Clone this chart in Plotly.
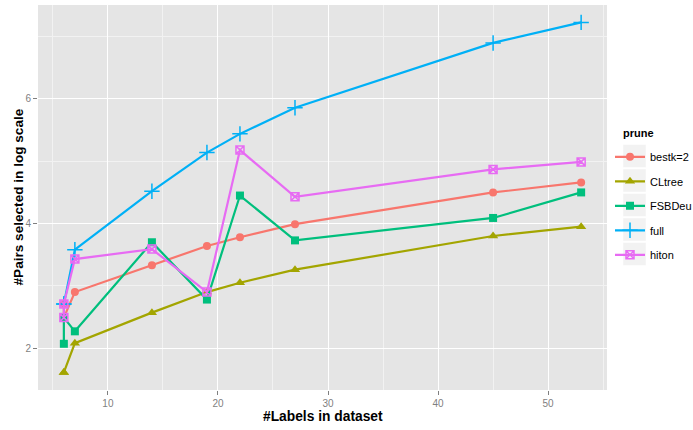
import plotly.graph_objects as go

labels = [6, 6, 7, 14, 19, 22, 27, 45, 53]
bestk2 = [2.71, 2.49, 2.90, 3.33, 3.64, 3.78, 3.99, 4.50, 4.66]
cltree = [1.61, 1.61, 2.08, 2.57, 2.90, 3.05, 3.26, 3.80, 3.95]
fsbdeu = [2.07, 2.49, 2.27, 3.70, 2.78, 4.45, 3.73, 4.09, 4.50]
full = [2.71, 2.71, 3.58, 4.52, 5.14, 5.44, 5.86, 6.90, 7.23]
hiton = [2.49, 2.71, 3.43, 3.59, 2.90, 5.18, 4.43, 4.87, 4.99]

series_names = ["bestk=2", "CLtree", "FSBDeu", "full", "hiton"]
series_values = [bestk2, cltree, fsbdeu, full, hiton]
colors = ["#F8766D", "#A3A500", "#00BF7D", "#00B0F6", "#E76BF3"]
symbols = ["circle", "triangle-up", "square", "cross-thin", "square-x-open"]
msizes = [8, 9, 8, 11, 8]

FONT = "Liberation Sans, Arial, Helvetica, sans-serif"

fig = go.Figure()
for i, (name, vals) in enumerate(zip(series_names, series_values)):
    fig.add_trace(go.Scatter(
        x=labels, y=vals, name=name, mode="lines+markers",
        legendgroup=name,
        line=dict(color=colors[i], width=2.2),
        marker=dict(symbol=symbols[i], size=msizes[i], color=colors[i],
                    line=dict(color=colors[i], width=1.5 if i >= 3 else 0)),
    ))

# plot panel in pixels: left 38, right 607, top 5, bottom 390
L, R, T, B = 38, 607, 5, 390
W, H = 693, 430
pw, ph = R - L, B - T

def px_to_paper(x, y):
    return (x - L) / pw, (B - y) / ph

shapes = []
key_centers = [156, 180.5, 205, 229.5, 254]
for cy in key_centers:
    x0, y0 = px_to_paper(623, cy + 11.5)
    x1, y1 = px_to_paper(646, cy - 11.5)
    shapes.append(dict(type="rect", xref="paper", yref="paper", x0=x0, x1=x1,
                       y0=y0, y1=y1, fillcolor="#F2F2F2",
                       line=dict(color="white", width=0.5), layer="below"))

annotations = [
    dict(text="<b>#Labels in dataset</b>", xref="paper", yref="paper",
         x=0.5, y=px_to_paper(0, 416.5)[1], xanchor="center", yanchor="middle",
         showarrow=False, font=dict(size=13.8, family=FONT, color="black")),
    dict(text="<b>#Pairs selected in log scale</b>", xref="paper", yref="paper",
         x=px_to_paper(18, 0)[0], y=0.5, xanchor="center", yanchor="middle",
         textangle=-90, showarrow=False,
         font=dict(size=13.6, family=FONT, color="black")),
    dict(text="<b>prune</b>", xref="paper", yref="paper",
         x=px_to_paper(621, 0)[0], y=px_to_paper(0, 133)[1],
         xanchor="left", yanchor="middle", showarrow=False,
         font=dict(size=11, family=FONT, color="black")),
]

fig.update_layout(
    width=W, height=H,
    margin=dict(l=L, r=W - R, t=T, b=H - B, autoexpand=False),
    paper_bgcolor="white", plot_bgcolor="#E5E5E5",
    font=dict(family=FONT, color="black"),
    shapes=shapes,
    annotations=annotations,
    legend=dict(
        font=dict(size=11, family=FONT),
        xref="container", yref="container",
        x=610 / W, xanchor="left", y=1 - 142.3 / H, yanchor="top",
        bgcolor="rgba(0,0,0,0)", tracegroupgap=5.5,
        itemwidth=30,
    ),
    xaxis=dict(
        range=[3.65, 55.35], tickvals=[10, 20, 30, 40, 50], automargin=False,
        showgrid=True, gridcolor="white", gridwidth=1.1,
        minor=dict(tickvals=[5, 15, 25, 35, 45, 55], showgrid=True,
                   gridcolor="#F2F2F2", gridwidth=0.6, ticks=""),
        zeroline=False, ticks="outside", ticklen=4, tickcolor="#7F7F7F",
        tickfont=dict(size=10, color="#7F7F7F", family=FONT),
        showline=False,
    ),
    yaxis=dict(
        range=[1.328, 7.509], tickvals=[2, 4, 6], automargin=False,
        showgrid=True, gridcolor="white", gridwidth=1.1,
        minor=dict(tickvals=[1, 3, 5, 7], showgrid=True,
                   gridcolor="#F2F2F2", gridwidth=0.6, ticks=""),
        zeroline=False, ticks="outside", ticklen=4, tickcolor="#7F7F7F",
        tickfont=dict(size=10, color="#7F7F7F", family=FONT),
        showline=False,
    ),
)

fig.write_html("out.html", config={"displayModeBar": False},
               post_script="document.body.style.margin='0px';")
